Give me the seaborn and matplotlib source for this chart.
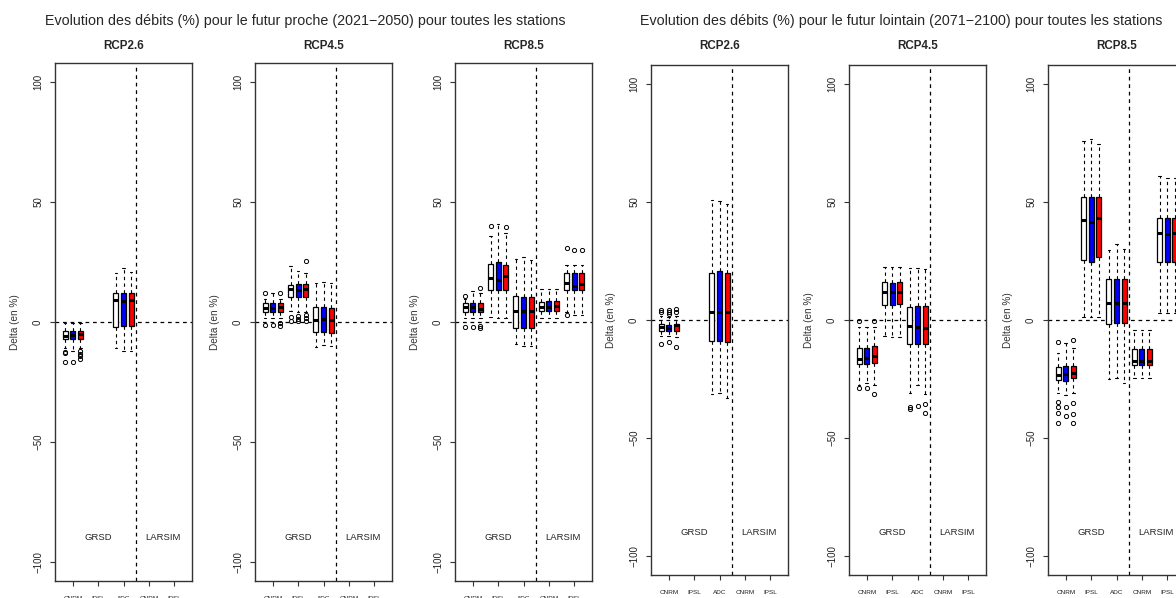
import matplotlib
matplotlib.use("Agg")
import matplotlib.pyplot as plt
import seaborn as sns

# Box statistics
# each row: (group index, member index, whisker low, q1, median, q3, whisker high, outliers)
x_groups = ['CNRM', 'IPSL', 'ADC', 'CNRM', 'IPSL']
members = ['white', 'blue', 'red']
scenarios = ['RCP2.6', 'RCP4.5', 'RCP8.5']
model_names = ['GRSD', 'LARSIM']

title_near = "Evolution des débits (%) pour le futur proche (2021\u22122050) pour toutes les stations"
title_far = "Evolution des débits (%) pour le futur lointain (2071\u22122100) pour toutes les stations"

near_rcp26 = [
    (0, 0, -10.9, -7.1, -5.8, -3.6, -0.3, [-12.5, -13.0, -16.7]),
    (0, 1, -12.0, -7.1, -5.5, -3.8, -0.3, [-16.7]),
    (0, 2, -10.9, -7.1, -5.0, -3.6, -0.3, [-12.2, -13.2, -14.2, -15.3]),
    (2, 0, -10.8, -2.2, 9.2, 12.0, 20.4, []),
    (2, 1, -12.0, -1.7, 8.9, 12.3, 22.5, []),
    (2, 2, -12.0, -1.7, 9.2, 12.0, 20.8, []),
]

near_rcp45 = [
    (0, 0, 1.5, 4.2, 5.8, 7.8, 9.6, [12.2, -1.3]),
    (0, 1, 1.5, 4.2, 5.8, 7.8, 12.2, [-1.3]),
    (0, 2, 1.5, 4.2, 6.1, 7.8, 9.6, [12.2, -0.3, -1.5]),
    (1, 0, 4.5, 10.3, 13.6, 15.6, 23.5, [2.0, 0.5]),
    (1, 1, 4.3, 10.6, 13.3, 15.8, 21.4, [2.5, 1.4, 0.3]),
    (1, 2, 4.3, 10.3, 13.9, 15.8, 20.5, [25.4, 3.0, 1.5, 0.5]),
    (2, 0, -10.5, -4.2, 0.8, 6.1, 16.1, []),
    (2, 1, -9.6, -4.2, 1.1, 6.1, 16.8, []),
    (2, 2, -10.0, -4.5, 0.8, 5.8, 16.4, []),
]

near_rcp85 = [
    (0, 0, 1.5, 4.2, 6.1, 8.0, 9.6, [10.8, -2.0]),
    (0, 1, 1.5, 4.2, 6.1, 8.0, 13.0, [-2.0]),
    (0, 2, 1.5, 4.2, 5.5, 7.8, 12.2, [14.0, -1.5, -2.3]),
    (1, 0, 2.2, 13.3, 18.3, 24.2, 36.0, [40.0]),
    (1, 1, 1.5, 13.3, 17.5, 25.1, 41.0, []),
    (1, 2, 1.5, 13.3, 19.2, 23.8, 37.0, [39.5]),
    (2, 0, -9.3, -2.4, 4.6, 11.0, 26.1, []),
    (2, 1, -9.8, -2.4, 4.6, 10.3, 27.0, []),
    (2, 2, -9.8, -2.4, 4.6, 10.3, 25.8, []),
    (3, 0, 1.5, 4.4, 6.1, 8.2, 13.6, []),
    (3, 1, 1.5, 4.4, 6.1, 8.6, 13.6, []),
    (3, 2, 1.5, 4.4, 6.8, 8.6, 13.6, []),
    (4, 0, 4.3, 13.3, 16.1, 20.3, 23.6, [31.0, 3.0]),
    (4, 1, 3.0, 13.3, 15.1, 20.3, 23.6, [30.0]),
    (4, 2, 3.0, 13.3, 15.7, 20.3, 23.6, [30.0]),
]

far_rcp26 = [
    (0, 0, -6.8, -4.5, -2.8, -1.7, 1.8, [4.2, 3.2, -10.2]),
    (0, 1, -6.8, -4.7, -3.3, -2.1, 1.4, [4.2, 3.4, 2.5, -9.2]),
    (0, 2, -7.3, -4.5, -2.1, -1.7, 1.8, [4.8, 3.5, -11.6]),
    (2, 0, -31.5, -8.8, 3.5, 19.8, 51.0, []),
    (2, 1, -31.0, -8.8, 3.5, 20.8, 50.5, []),
    (2, 2, -33.2, -9.2, 3.5, 19.8, 49.0, []),
]

far_rcp45 = [
    (0, 0, -27.5, -18.8, -16.5, -11.7, -3.1, [-0.4, -29.0]),
    (0, 1, -26.8, -18.8, -16.0, -11.7, -3.1, [-28.7]),
    (0, 2, -27.5, -18.0, -15.3, -11.0, -3.1, [-0.4, -31.5]),
    (1, 0, -6.8, 6.4, 11.7, 16.0, 22.6, []),
    (1, 1, -7.3, 6.4, 11.7, 15.5, 22.6, []),
    (1, 2, -7.3, 6.8, 12.0, 16.0, 22.6, []),
    (2, 0, -31.0, -10.3, -2.5, 5.4, 21.9, [-37.0, -37.8]),
    (2, 1, -27.5, -10.2, -3.1, 5.9, 21.9, [-36.4]),
    (2, 2, -31.4, -10.2, -3.5, 5.9, 21.6, [-35.6, -39.5]),
]

far_rcp85 = [
    (0, 0, -31.0, -25.4, -23.4, -19.8, -14.1, [-9.2, -34.6, -37.0, -39.5, -43.5]),
    (0, 1, -31.8, -25.8, -22.9, -19.4, -9.9, [-36.7, -40.5]),
    (0, 2, -31.0, -24.7, -22.6, -19.4, -12.0, [-8.5, -35.3, -40.0, -43.5]),
    (1, 0, 1.1, 25.4, 42.4, 52.2, 76.0, []),
    (1, 1, 1.1, 24.7, 41.7, 52.2, 76.6, []),
    (1, 2, 1.1, 26.6, 43.1, 52.2, 74.6, []),
    (2, 0, -25.1, -1.7, 7.1, 17.2, 29.7, []),
    (2, 1, -24.4, -1.1, 7.0, 17.2, 32.1, []),
    (2, 2, -26.5, -1.1, 7.3, 17.2, 29.9, []),
    (3, 0, -24.7, -19.1, -17.2, -12.4, -4.2, []),
    (3, 1, -24.7, -19.1, -17.2, -12.4, -4.2, []),
    (3, 2, -24.7, -19.1, -17.2, -12.4, -4.2, []),
    (4, 0, 3.1, 24.7, 36.7, 43.4, 61.0, []),
    (4, 1, 3.1, 24.7, 36.4, 43.4, 60.3, []),
    (4, 2, 3.1, 24.7, 36.7, 43.4, 60.3, []),
]

sns.set_style("ticks")
plt.rcParams['font.family'] = ['Liberation Sans', 'DejaVu Sans']

W, H = 1176, 598
fig = plt.figure(figsize=(W / 100, H / 100), dpi=100)
offsets = [-0.3, 0.0, 0.3]  # side by side boxes inside one group


def draw_panel(left_px, top_px, bottom_px, rows, scen):
    ax = fig.add_axes([left_px / W, 1 - bottom_px / H, 137 / W, (bottom_px - top_px) / H])
    for g, m, lo, q1, med, q3, hi, fl in rows:
        st = [dict(whislo=lo, q1=q1, med=med, q3=q3, whishi=hi, fliers=fl)]
        ax.bxp(st, positions=[g + 1 + offsets[m]], widths=0.2, capwidths=0.1,
               patch_artist=True, manage_ticks=False,
               boxprops=dict(facecolor=members[m], edgecolor='black', linewidth=0.9),
               medianprops=dict(color='black', linewidth=2.2, solid_capstyle='butt'),
               whiskerprops=dict(color='black', linewidth=0.8, linestyle=(0, (3, 3))),
               capprops=dict(color='black', linewidth=0.8),
               flierprops=dict(marker='o', markerfacecolor='none', markeredgecolor='black',
                               markersize=3, markeredgewidth=0.7))
    ax.axhline(0, color='black', linewidth=0.9, linestyle=(0, (3, 3)), zorder=1)
    ax.axvline(3.5, color='black', linewidth=0.9, linestyle=(0, (3, 3)), zorder=1)
    ax.set_xlim(0.3, 5.7)
    ax.set_ylim(-108, 108)
    ax.set_xticks(range(1, 6))
    ax.set_xticklabels(x_groups, fontsize=4.6, color='#222222')
    ax.set_yticks([-100, -50, 0, 50, 100])
    ax.set_yticklabels(['\u2212100', '\u221250', '0', '50', '100'], fontsize=7,
                       rotation=90, color='#222222', va='center')
    ax.tick_params(axis='x', length=3.6, width=0.8, pad=7, color='#333333')
    ax.tick_params(axis='y', length=3.6, width=0.8, pad=5, color='#333333')
    for s in ax.spines.values():
        s.set_visible(True)
        s.set_color('#333333')
        s.set_linewidth(1)
    ax.text(2, -90, model_names[0], ha='center', va='center', fontsize=6.8)
    ax.text(4.55, -90, model_names[1], ha='center', va='center', fontsize=6.8)
    ax.text(-40 / 137, 0.5, 'Delta (en %)', transform=ax.transAxes, rotation=90,
            ha='center', va='center', fontsize=7.2, color='#333333')
    fig.text((left_px + 68.5) / W, 1 - 46 / H, scen, ha='center', va='center',
             fontsize=8.4, fontweight='bold')
    return ax


# futur proche (left half)
for lp, rows, scen in zip([55, 255, 455], [near_rcp26, near_rcp45, near_rcp85], scenarios):
    draw_panel(lp, 63, 581, rows, scen)

# futur lointain (right half)
for lp, rows, scen in zip([651, 849, 1048], [far_rcp26, far_rcp45, far_rcp85], scenarios):
    draw_panel(lp, 65, 575, rows, scen)

fig.text(305 / W, 1 - 21 / H, title_near, ha='center', va='center', fontsize=10.3)
fig.text(901 / W, 1 - 21 / H, title_far, ha='center', va='center', fontsize=10.3)

plt.savefig("out.png", dpi=100)
